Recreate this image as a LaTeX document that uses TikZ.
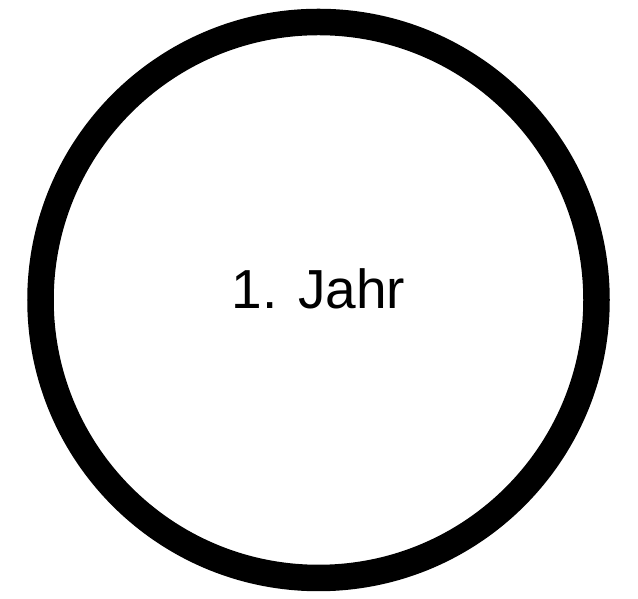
\documentclass[tikz,border=0pt]{standalone}
\usepackage{fontspec}
\setmainfont{Liberation Sans}
\begin{document}
\begin{tikzpicture}[x=1pt,y=1pt,
  ring/.style={draw=black,line width=26.5pt,circle,minimum size=556pt,inner sep=0pt},
  lbl/.style={font=\fontsize{55}{60}\selectfont,inner sep=0pt,anchor=base}]
\useasboundingbox (0,0) rectangle (638,599);
\node[ring] (c) at (318.5,299) {};
\node[lbl] (t) at (318.5,290) {1. Jahr};
\end{tikzpicture}
\end{document}
